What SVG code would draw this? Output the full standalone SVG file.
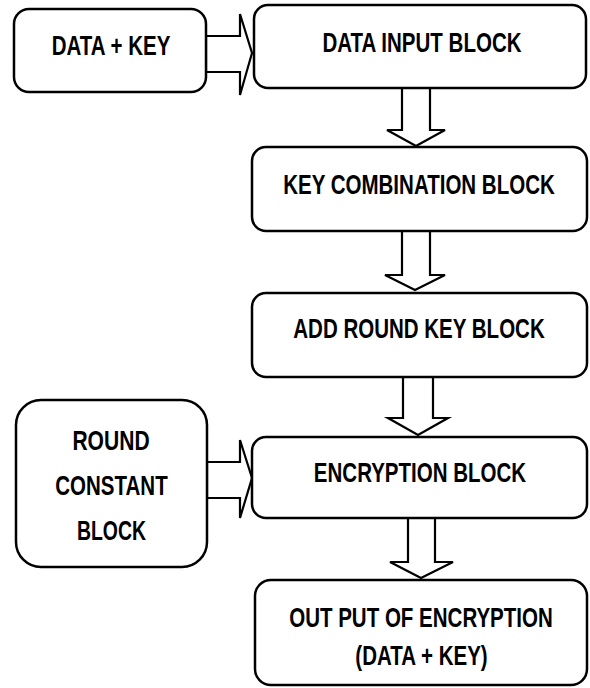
<svg xmlns="http://www.w3.org/2000/svg" width="590" height="688" viewBox="0 0 590 688">
<style>
.box{fill:#fff;stroke:#000;stroke-width:2.5}
.arr{fill:#fff;stroke:#000;stroke-width:2.2;stroke-linejoin:miter}
.t{font-family:"Liberation Sans",Arial,sans-serif;font-weight:bold;font-size:27px;fill:#000;text-anchor:middle}
</style>
<rect width="590" height="688" fill="#fff"/>
<g id="connectors">
<polygon class="arr" points="206,36 240,36 240,14 252,53 240,95 240,72 206,72"/>
<polygon class="arr" points="402,88 430,88 430,130 445,130 416,146 387,130 402,130"/>
<polygon class="arr" points="402,231 430,231 430,275 445,275 415,290 385,275 402,275"/>
<polygon class="arr" points="403,377 433,377 433,418 448,418 418,435 388,418 403,418"/>
<polygon class="arr" points="207,462 240,462 240,440 252,478 240,518 240,498 207,498"/>
<polygon class="arr" points="408,518 435,518 435,562 453,562 421,578 390,562 408,562"/>
</g>
<g id="data-key">
<rect class="box" x="14" y="9" width="192" height="83" rx="15"/>
<text class="t" transform="translate(111 55) scale(0.76 1)">DATA + KEY</text>
</g>
<g id="data-input">
<rect class="box" x="254" y="5" width="332" height="83" rx="14"/>
<text class="t" transform="translate(422 52) scale(0.76 1)">DATA INPUT BLOCK</text>
</g>
<g id="key-combination">
<rect class="box" x="252" y="147" width="335" height="84" rx="14"/>
<text class="t" transform="translate(419 194) scale(0.76 1)">KEY COMBINATION BLOCK</text>
</g>
<g id="add-round-key">
<rect class="box" x="252" y="293" width="335" height="84" rx="14"/>
<text class="t" transform="translate(419 338) scale(0.76 1)">ADD ROUND KEY BLOCK</text>
</g>
<g id="encryption">
<rect class="box" x="252" y="437" width="335" height="81" rx="14"/>
<text class="t" transform="translate(420 482) scale(0.76 1)">ENCRYPTION BLOCK</text>
</g>
<g id="round-constant">
<rect class="box" x="16" y="400" width="191" height="167" rx="25"/>
<text class="t" transform="translate(111 450) scale(0.78 1)">ROUND</text>
<text class="t" transform="translate(111.5 495) scale(0.76 1)">CONSTANT</text>
<text class="t" transform="translate(111.5 540) scale(0.72 1)">BLOCK</text>
</g>
<g id="output">
<rect class="box" x="255" y="580" width="332" height="105" rx="16"/>
<text class="t" transform="translate(421 627) scale(0.76 1)">OUT PUT OF ENCRYPTION</text>
<text class="t" transform="translate(421.5 665) scale(0.76 1)">(DATA + KEY)</text>
</g>
</svg>
